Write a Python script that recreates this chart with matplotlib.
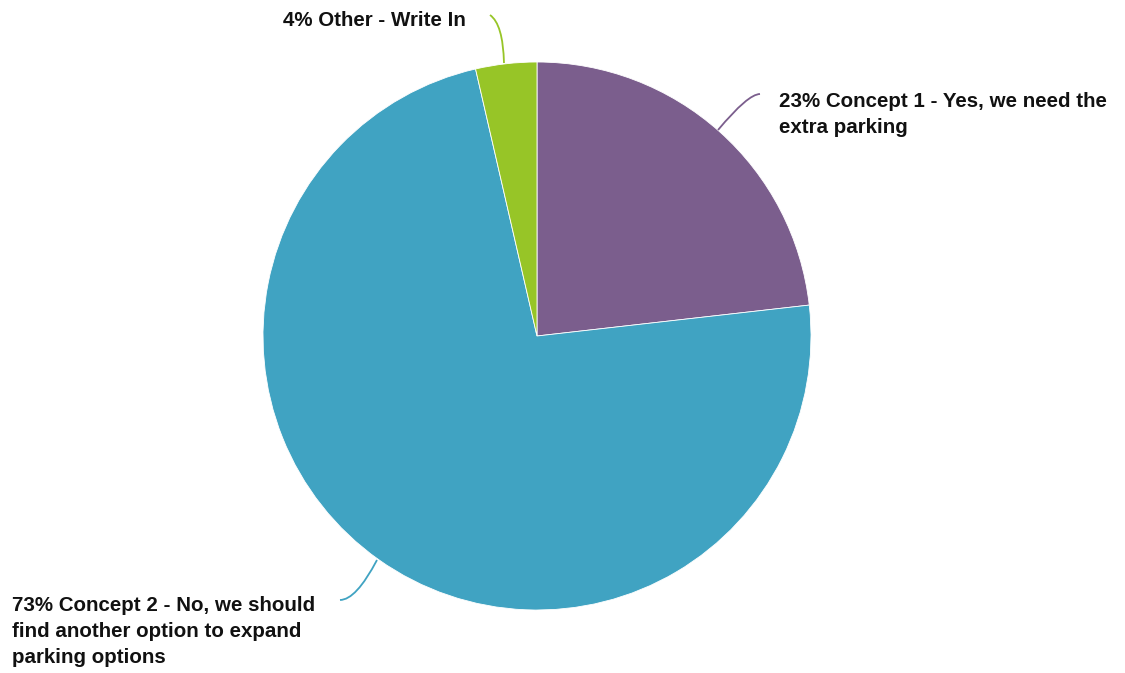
import matplotlib.pyplot as plt
from matplotlib.path import Path
from matplotlib.patches import PathPatch

# slice data, clockwise from 12 o'clock
labels = ["23% Concept 1 - Yes, we need the\nextra parking",
          "73% Concept 2 - No, we should\nfind another option to expand\nparking options",
          "4% Other - Write In"]
values = [23.2, 73.2, 3.6]
colors = ["#7b5e8d", "#40a3c2", "#97c527"]

plt.rcParams['font.family'] = ['Liberation Sans', 'DejaVu Sans']

fig = plt.figure(figsize=(11.25, 6.73), dpi=100)
ax = fig.add_axes([0, 0, 1, 1])

H = 673
cx, cy, r = 537, H - 336, 274
wedges, _ = ax.pie(values, colors=colors, startangle=90, counterclock=False,
                   center=(cx, cy), radius=r, frame=True,
                   wedgeprops=dict(edgecolor="white", linewidth=0.6))
ax.set_xlim(0, 1125)
ax.set_ylim(0, H)
ax.set_aspect("equal")
ax.axis("off")

# label placement (pixel coords, y from top)
text_pos = [(779, 92), (12, 596), (283, 11)]
# leader lines: start on the rim, bend point, end at label
lead = [((718, 130), (748, 94), (760, 94)),
        ((377, 560), (356, 600), (340, 600)),
        ((504, 63), (503, 24), (490, 15))]

for lab, col, (tx, ty), pts in zip(labels, colors, text_pos, lead):
    ax.text(tx, H - ty, lab, ha="left", va="top",
            fontsize=14.8, fontweight="bold", color="#111111", linespacing=1.47)
    verts = [(x, H - y) for x, y in pts]
    path = Path(verts, [Path.MOVETO, Path.CURVE3, Path.CURVE3])
    ax.add_patch(PathPatch(path, facecolor="none", edgecolor=col, lw=1.3))

fig.savefig("out.png", dpi=100)
